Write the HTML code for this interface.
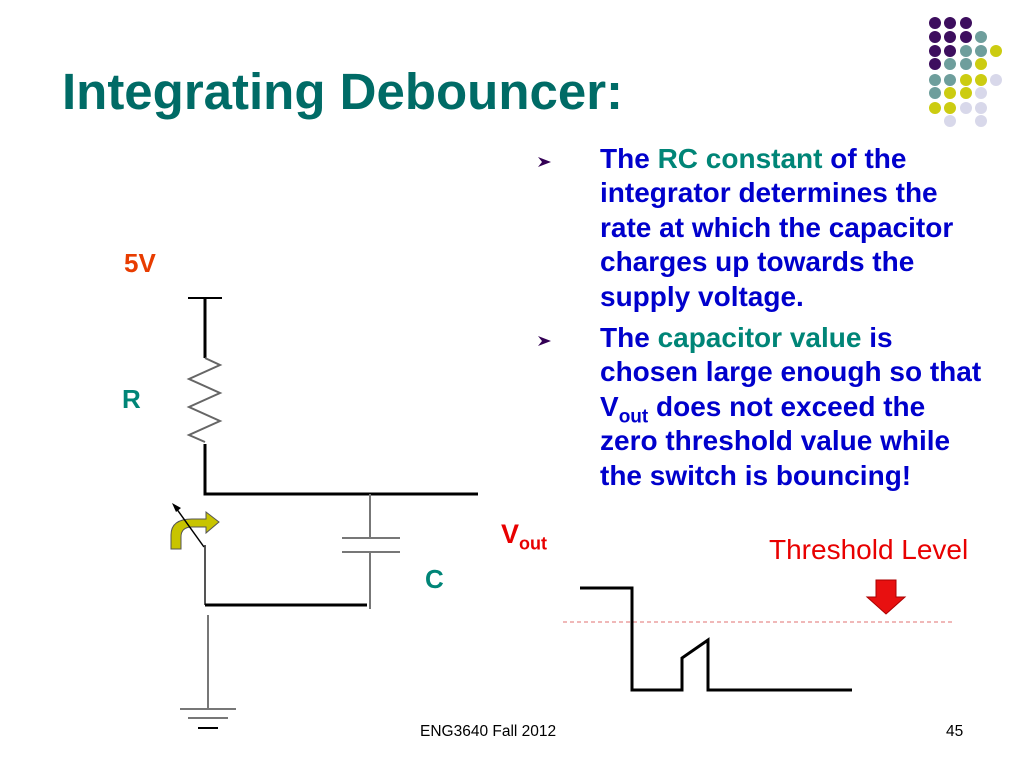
<!DOCTYPE html>
<html><head><meta charset="utf-8"><style>
body{margin:0;width:1024px;height:768px;background:#fff;position:relative;overflow:hidden;font-family:"Liberation Sans",Arial,sans-serif}
.t{position:absolute;white-space:nowrap}
.b{font-weight:bold;color:#0000cc;font-size:28px;line-height:34.4px}
.g{color:#008577}
</style></head><body>
<svg width="1024" height="768" style="position:absolute;left:0;top:0">
<g>
<circle cx="935" cy="23" r="6" fill="#3d0e5e"/><circle cx="950" cy="23" r="6" fill="#3d0e5e"/><circle cx="966" cy="23" r="6" fill="#3d0e5e"/>
<circle cx="935" cy="37" r="6" fill="#3d0e5e"/><circle cx="950" cy="37" r="6" fill="#3d0e5e"/><circle cx="966" cy="37" r="6" fill="#3d0e5e"/><circle cx="981" cy="37" r="6" fill="#6e9e9c"/>
<circle cx="935" cy="51" r="6" fill="#3d0e5e"/><circle cx="950" cy="51" r="6" fill="#3d0e5e"/><circle cx="966" cy="51" r="6" fill="#6e9e9c"/><circle cx="981" cy="51" r="6" fill="#6e9e9c"/><circle cx="996" cy="51" r="6" fill="#cccc11"/>
<circle cx="935" cy="64" r="6" fill="#3d0e5e"/><circle cx="950" cy="64" r="6" fill="#6e9e9c"/><circle cx="966" cy="64" r="6" fill="#6e9e9c"/><circle cx="981" cy="64" r="6" fill="#cccc11"/>
<circle cx="935" cy="80" r="6" fill="#6e9e9c"/><circle cx="950" cy="80" r="6" fill="#6e9e9c"/><circle cx="966" cy="80" r="6" fill="#cccc11"/><circle cx="981" cy="80" r="6" fill="#cccc11"/><circle cx="996" cy="80" r="6" fill="#d8d8ea"/>
<circle cx="935" cy="93" r="6" fill="#6e9e9c"/><circle cx="950" cy="93" r="6" fill="#cccc11"/><circle cx="966" cy="93" r="6" fill="#cccc11"/><circle cx="981" cy="93" r="6" fill="#d8d8ea"/>
<circle cx="935" cy="108" r="6" fill="#cccc11"/><circle cx="950" cy="108" r="6" fill="#cccc11"/><circle cx="966" cy="108" r="6" fill="#d8d8ea"/><circle cx="981" cy="108" r="6" fill="#d8d8ea"/>
<circle cx="950" cy="121" r="6" fill="#d8d8ea"/><circle cx="981" cy="121" r="6" fill="#d8d8ea"/>
</g>
<g fill="none" stroke-linecap="butt">
<line x1="188" y1="298" x2="222" y2="298" stroke="#000" stroke-width="2"/>
<line x1="205" y1="298" x2="205" y2="358" stroke="#000" stroke-width="3"/>
<polyline points="205,358 220,365 189,379 220,393 189,407 220,421 189,435 205,442" stroke="#666" stroke-width="2"/>
<polyline points="205,444 205,494 478,494" stroke="#000" stroke-width="3"/>
<line x1="370" y1="494" x2="370" y2="538" stroke="#777" stroke-width="2"/>
<line x1="342" y1="538" x2="400" y2="538" stroke="#777" stroke-width="2"/>
<line x1="342" y1="552" x2="400" y2="552" stroke="#777" stroke-width="2"/>
<line x1="370" y1="552" x2="370" y2="609" stroke="#777" stroke-width="2"/>
<line x1="205" y1="545" x2="205" y2="605" stroke="#555" stroke-width="2"/>
<line x1="205" y1="605" x2="367" y2="605" stroke="#000" stroke-width="3"/>
<line x1="208" y1="615" x2="208" y2="709" stroke="#777" stroke-width="2"/>
<line x1="180" y1="709" x2="236" y2="709" stroke="#777" stroke-width="2"/>
<line x1="188" y1="718" x2="228" y2="718" stroke="#777" stroke-width="2"/>
<line x1="198" y1="728" x2="218" y2="728" stroke="#000" stroke-width="2"/>
</g>
<path d="M171,549 L171,535 Q171,519 192,519 L206,519 L206,512 L219,522 L206,533 L206,527 L192,527 Q181,527 181,537 L181,549 Z" fill="#c8c400" stroke="#555" stroke-width="1"/>
<line x1="204" y1="547" x2="176" y2="508" stroke="#000" stroke-width="1.5"/>
<polygon points="172,503 181,508 176,512" fill="#000"/>
<line x1="563" y1="622" x2="955" y2="622" stroke="#e07070" stroke-width="1" stroke-dasharray="4,3"/>
<polyline points="580,588 632,588 632,690 682,690 682,658 708,640 708,690 852,690" fill="none" stroke="#000" stroke-width="3"/>
<polygon points="876,580 896,580 896,597 905,597 886,614 867,597 876,597" fill="#e81010" stroke="#a00" stroke-width="1"/>
<polygon points="538,157 551,162 538,167 542,162" fill="#330055"/>
<polygon points="538,336 551,341 538,346 542,341" fill="#330055"/>
</svg>
<div class="t" style="left:62px;top:62px;font-size:51px;font-weight:bold;color:#006b66">Integrating Debouncer:</div>
<div class="t" style="left:124px;top:248px;font-size:26px;font-weight:bold;color:#e83c00">5V</div>
<div class="t" style="left:122px;top:384px;font-size:26px;font-weight:bold;color:#008577">R</div>
<div class="t" style="left:425px;top:564px;font-size:26px;font-weight:bold;color:#008577">C</div>
<div class="t" style="left:501px;top:519px;font-size:27px;font-weight:bold;color:#e80000">V<sub style="font-size:18px">out</sub></div>
<div class="t" style="left:769px;top:534px;font-size:28px;color:#e80000">Threshold Level</div>
<div class="t b" style="left:600px;top:142px">The <span class="g">RC constant</span> of the<br>integrator determines the<br>rate at which the capacitor<br>charges up towards the<br>supply voltage.</div>
<div class="t b" style="left:600px;top:321px">The <span class="g">capacitor value</span> is<br>chosen large enough so that<br>V<sub style="font-size:19px;line-height:0">out</sub> does not exceed the<br>zero threshold value while<br>the switch is bouncing!</div>
<div class="t" style="left:420px;top:723px;font-size:15.5px;color:#000">ENG3640 Fall 2012</div>
<div class="t" style="left:946px;top:723px;font-size:15.5px;color:#000">45</div>
</body></html>
